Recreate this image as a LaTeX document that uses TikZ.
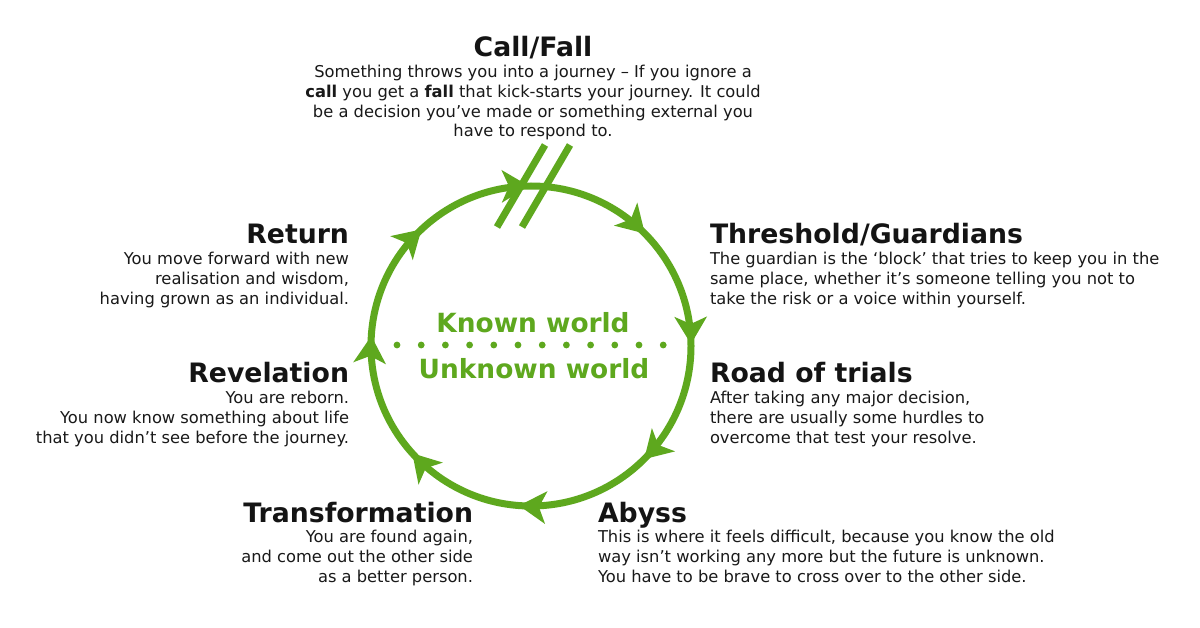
\documentclass[tikz,border=0pt]{standalone}
\usepackage{fontspec}
\setmainfont{DejaVu Sans}
\usepackage{xcolor}
\usetikzlibrary{arrows.meta,positioning,decorations.markings}
\definecolor{leaf}{RGB}{94,168,30}
\tikzset{turntip/.tip={Stealth[length=27pt,width=32pt,inset=7pt]}}

\begin{document}
\begin{tikzpicture}[
  x=1pt, y=-1pt,
  every node/.style={inner sep=0pt, outer sep=0pt},
  stagettl/.style={font=\fontsize{26.7}{31}\selectfont\bfseries, text=black!92, text depth=0pt},
  stagetxt/.style={font=\fontsize{16.3}{19.7}\selectfont, text=black!90},
  worldlbl/.style={font=\fontsize{26.4}{30}\selectfont\bfseries, text=leaf, anchor=base},
  ring/.style={draw=leaf, line width=7pt},
  slash/.style={draw=leaf, line width=7pt},
  turns/.style={postaction={decorate, decoration={markings,
      mark=at position 0.125 with {\arrow[leaf]{turntip}},
      mark=at position 0.262 with {\arrow[leaf]{turntip}},
      mark=at position 0.383 with {\arrow[leaf]{turntip}},
      mark=at position 0.510 with {\arrow[leaf]{turntip}},
      mark=at position 0.630 with {\arrow[leaf]{turntip}},
      mark=at position 0.748 with {\arrow[leaf]{turntip}},
      mark=at position 0.876 with {\arrow[leaf]{turntip}},
      mark=at position 0.998 with {\arrow[leaf]{turntip}}}}}
]
\useasboundingbox[fill=white] (0,0) rectangle (1200,628);

% the journey ring (clockwise)
\coordinate (hub) at (531,346);
\draw[ring, turns] (hub) ++(160,0) arc[start angle=0, end angle=360, radius=160];

% break mark at the top
\coordinate (sa1) at (497,227); \coordinate (sa2) at (545,145);
\coordinate (sb1) at (522,227); \coordinate (sb2) at (570,145);
\draw[slash] (sa1) -- (sa2);
\draw[slash] (sb1) -- (sb2);

% known / unknown divider
\foreach \k in {0,...,11}
  \fill[leaf] (397+24.2*\k, 345) circle[radius=3.4];
\node[worldlbl] (known) at (533,333) {Known world};
\node[worldlbl] (unknown) at (534,378) {Unknown world};

% Call/Fall (top)
\node[stagettl, anchor=base] (callT) at (533,57) {Call/Fall};
\node[stagetxt, align=center, below=8.5pt of callT] (callB) {%
  Something throws you into a journey – If you ignore a\\
  \textbf{call} you get a \textbf{fall} that kick-starts your journey. It could\\
  be a decision you’ve made or something external you\\
  have to respond to.};

% right side
\node[stagettl, anchor=base west] (thrT) at (710,244) {Threshold/Guardians};
\node[stagetxt, align=left, below=8.5pt of thrT.south west, anchor=north west] (thrB) {%
  The guardian is the ‘block’ that tries to keep you in the\\
  same place, whether it’s someone telling you not to\\
  take the risk or a voice within yourself.};

\node[stagettl, anchor=base west] (roadT) at (710,383) {Road of trials};
\node[stagetxt, align=left, below=8.5pt of roadT.south west, anchor=north west] (roadB) {%
  After taking any major decision,\\
  there are usually some hurdles to\\
  overcome that test your resolve.};

\node[stagettl, anchor=base west] (abyT) at (598,522) {Abyss};
\node[stagetxt, align=left, below=8.5pt of abyT.south west, anchor=north west] (abyB) {%
  This is where it feels difficult, because you know the old\\
  way isn’t working any more but the future is unknown.\\
  You have to be brave to cross over to the other side.};

% left side
\node[stagettl, anchor=base east] (traT) at (473,522) {Transformation};
\node[stagetxt, align=right, below=8.5pt of traT.south east, anchor=north east] (traB) {%
  You are found again,\\
  and come out the other side\\
  as a better person.};

\node[stagettl, anchor=base east] (revT) at (349,383) {Revelation};
\node[stagetxt, align=right, below=8.5pt of revT.south east, anchor=north east] (revB) {%
  You are reborn.\\
  You now know something about life\\
  that you didn’t see before the journey.};

\node[stagettl, anchor=base east] (retT) at (349,244) {Return};
\node[stagetxt, align=right, below=8.5pt of retT.south east, anchor=north east] (retB) {%
  You move forward with new\\
  realisation and wisdom,\\
  having grown as an individual.};

\end{tikzpicture}
\end{document}
